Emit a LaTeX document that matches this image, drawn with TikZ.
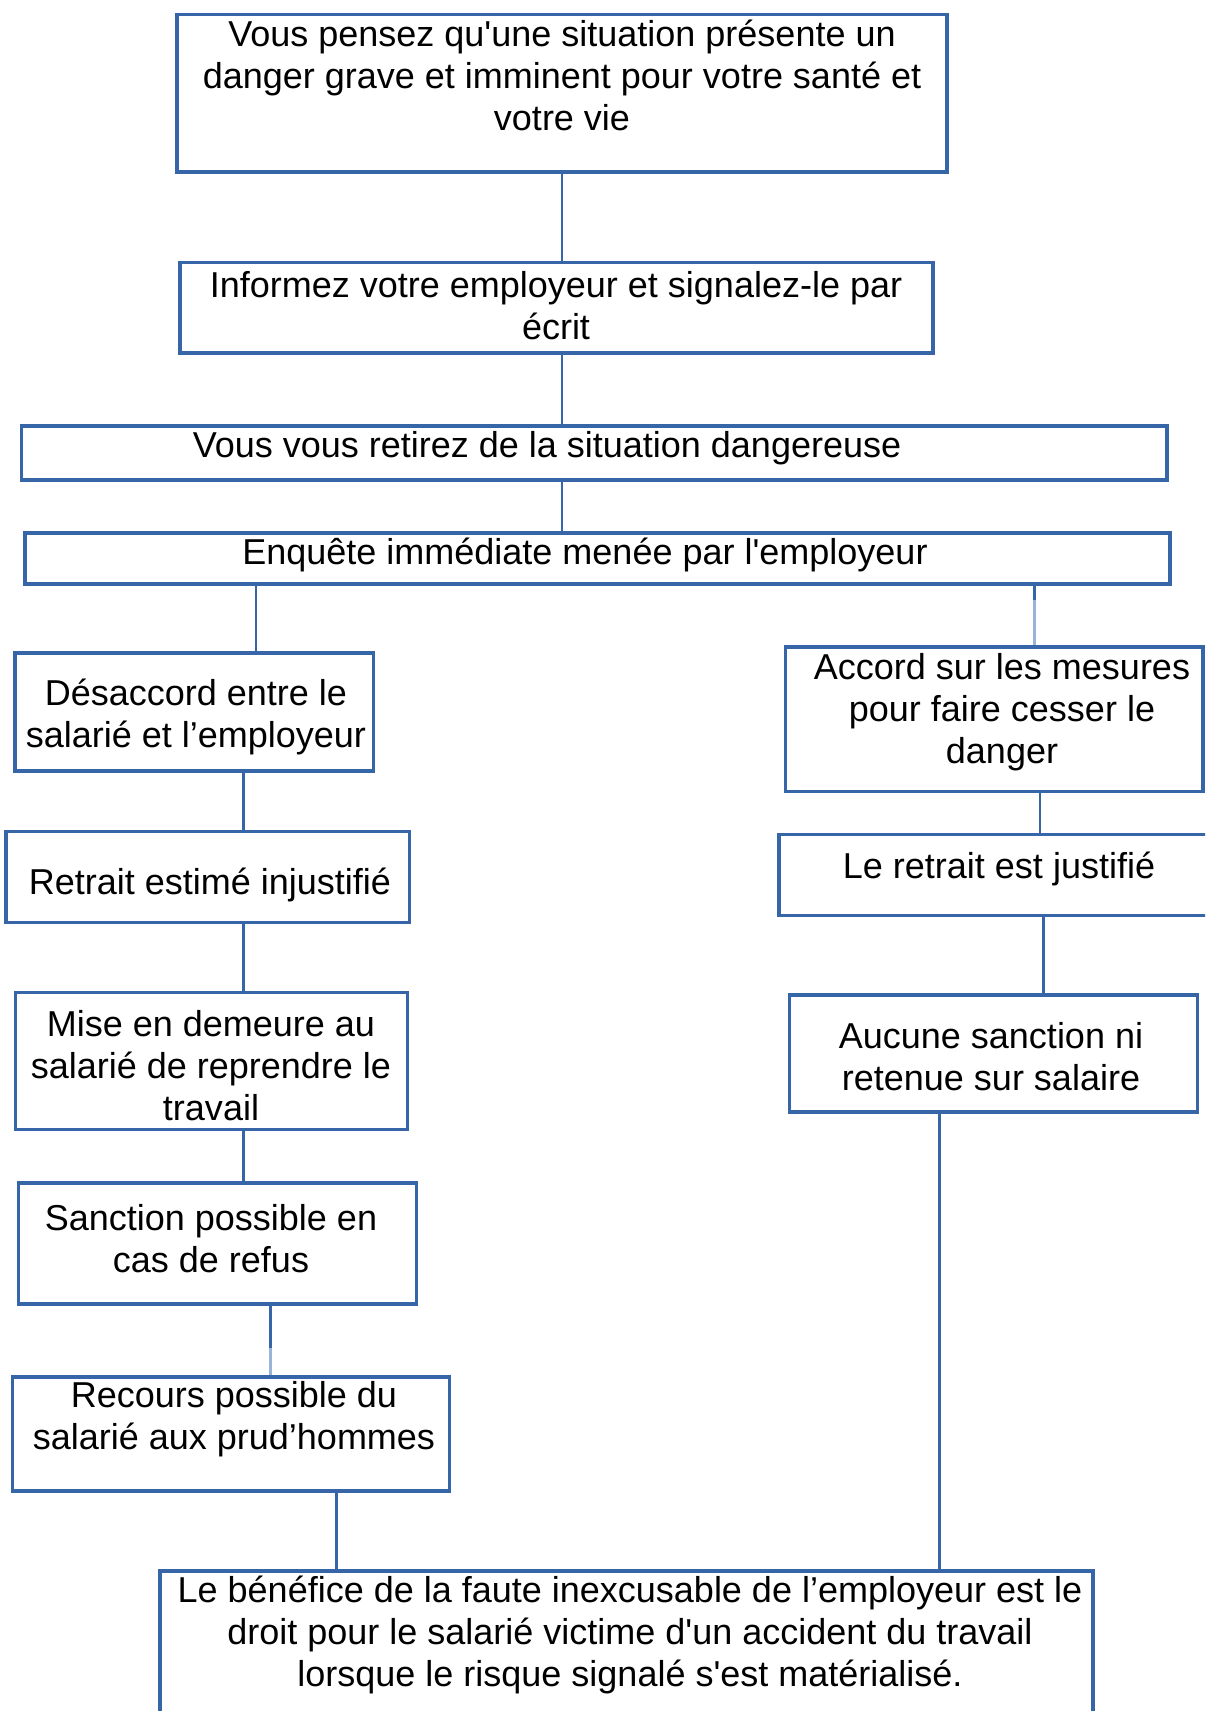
\documentclass[tikz,border=0pt]{standalone}
\usepackage{fontspec}
\setmainfont{Liberation Sans}
\usetikzlibrary{fit}
\definecolor{bordblue}{HTML}{3666A8}
\definecolor{lightblue}{HTML}{9AB3D8}
\newcommand\sq{\textquotesingle}
\begin{document}
\begin{tikzpicture}[x=0.5pt,y=-0.5pt,
  box/.style={draw=bordblue, line width=1.75pt, inner sep=0pt},
  conn/.style={draw=bordblue, line width=1.4pt},
  lconn/.style={draw=lightblue, line width=1.6pt},
  txt/.style={inner sep=0pt, align=center, font=\fontsize{18pt}{21pt}\selectfont, anchor=north}]
\useasboundingbox (0,0) rectangle (1205,1711);
\clip (0,0) rectangle (1205,1711);
\fill[white] (0,0) rectangle (1205,1711);

% boxes
\node[box, fit={(177,14.5) (947,172)}] (b1) {};
\node[box, fit={(180,262.5) (933,353)}] (b2) {};
\node[box, fit={(21.5,426) (1167,480)}] (b3) {};
\node[box, fit={(25,533) (1170,584)}] (b4) {};
\node[box, fit={(15,653) (373.5,771)}] (b5) {};
\node[box, fit={(785.5,647) (1203,791.5)}] (b6) {};
\node[box, fit={(6,831.5) (409.5,922.5)}] (b7) {};
\node[box, fit={(779,834.5) (1215,915.5)}] (b8) {};
\node[box, fit={(15.5,992.5) (407.5,1129.5)}] (b9) {};
\node[box, fit={(789.5,995) (1197.5,1112)}] (b10) {};
\node[box, fit={(18.5,1183) (416.5,1304)}] (b11) {};
\node[box, fit={(12.5,1377) (449.5,1491)}] (b12) {};
\node[box, fit={(160,1571) (1093,1730)}] (b13) {};

% texts
\node[txt] (t1) at (562,16.6) {\strut Vous pensez qu\sq une situation présente un\\danger grave et imminent pour votre santé et\\votre vie};
\node[txt] (t2) at (556,267.6) {\strut Informez votre employeur et signalez-le par\\écrit};
\node[txt] (t3) at (547,427.6) {\strut Vous vous retirez de la situation dangereuse};
\node[txt] (t4) at (585,535.1) {\strut Enquête immédiate menée par l\sq employeur};
\node[txt] (t5) at (196,675.5) {\strut Désaccord entre le\\salarié et l’employeur};
\node[txt] (t6) at (1002,649.6) {\strut Accord sur les mesures\\pour faire cesser le\\danger};
\node[txt] (t7) at (210,864.6) {\strut Retrait estimé injustifié};
\node[txt] (t8) at (999,849.1) {\strut Le retrait est justifié};
\node[txt] (t9) at (211,1006.6) {\strut Mise en demeure au\\salarié de reprendre le\\travail};
\node[txt] (t10) at (991,1018.6) {\strut Aucune sanction ni\\retenue sur salaire};
\node[txt] (t11) at (211,1201.1) {\strut Sanction possible en\\cas de refus};
\node[txt] (t12) at (234,1378.1) {\strut Recours possible du\\salarié aux prud’hommes};
\node[txt] (t13) at (630,1572.5) {\strut Le bénéfice de la faute inexcusable de l’employeur est le\\droit pour le salarié victime d\sq un accident du travail\\lorsque le risque signalé s\sq est matérialisé.};

% connectors
\draw[conn] (562,0 |- b1.south) -- (562,0 |- b2.north);
\draw[conn] (562,0 |- b2.south) -- (562,0 |- b3.north);
\draw[conn] (562,0 |- b3.south) -- (562,0 |- b4.north);
\draw[conn] (256,0 |- b4.south) -- (256,0 |- b5.north);
\coordinate (k6) at (1034.5,600);
\draw[conn] (1034.5,0 |- b4.south) -- (k6);
\draw[lconn] (k6) -- (1034.5,0 |- b6.north);
\draw[conn] (243.7,0 |- b5.south) -- (243.7,0 |- b7.north);
\draw[conn] (1040,0 |- b6.south) -- (1040,0 |- b8.north);
\draw[conn] (243.7,0 |- b7.south) -- (243.7,0 |- b9.north);
\draw[conn] (1043.8,0 |- b8.south) -- (1043.8,0 |- b10.north);
\draw[conn] (243.7,0 |- b9.south) -- (243.7,0 |- b11.north);
\coordinate (k12) at (270.6,1348);
\draw[conn] (270.6,0 |- b11.south) -- (k12);
\draw[lconn] (k12) -- (270.6,0 |- b12.north);
\draw[conn] (336.7,0 |- b12.south) -- (336.7,0 |- b13.north);
\draw[conn] (939.3,0 |- b10.south) -- (939.3,0 |- b13.north);
\end{tikzpicture}
\end{document}
